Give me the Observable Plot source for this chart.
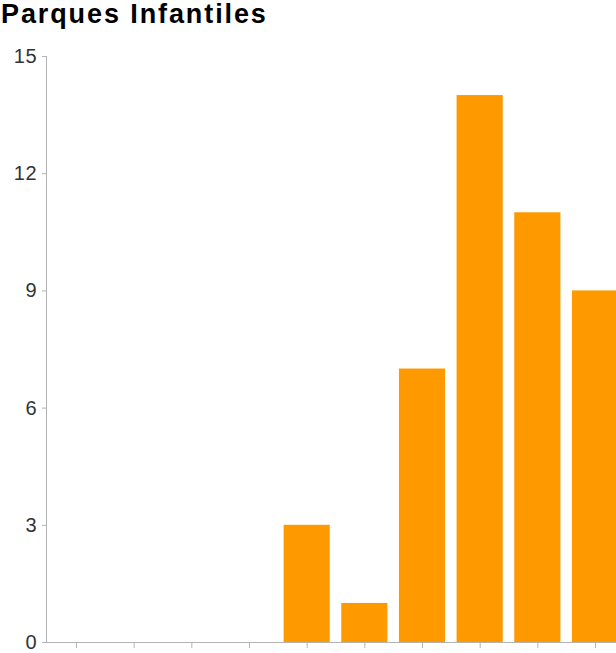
<!DOCTYPE html>
<html>
<head>
<meta charset="utf-8">
<script src="https://cdn.jsdelivr.net/npm/d3@7"></script>
<script src="https://cdn.jsdelivr.net/npm/@observablehq/plot@0.6"></script>
<style>
  html, body { margin: 0; padding: 0; background: #fff; overflow: hidden; width: 616px; }
  #title { font-family: "Liberation Sans", Arial, sans-serif; font-weight: bold; font-size: 27px; letter-spacing: 1.9px; color: #000; height: 28px; line-height: 28px; padding-left: 1px; white-space: nowrap; }
  #chart { width: 616px; overflow: hidden; }
  #chart svg { display: block; max-width: none !important; }
  #chart svg text { letter-spacing: 0.8px; }
</style>
</head>
<body>
<div id="title">Parques Infantiles</div>
<div id="chart"></div>
<script>
const categories = ["1", "2", "3", "4", "5", "6", "7", "8", "9", "10"];
const values = [0, 0, 0, 0, 3, 1, 7, 14, 11, 9];
const yTicks = [0, 3, 6, 9, 12, 15];

const data = categories.map((c, i) => ({category: c, value: values[i]}));

const plot = Plot.plot({
  width: 640,
  height: 644,
  marginTop: 28,
  marginBottom: 30,
  marginLeft: 46,
  marginRight: 15,
  style: {fontFamily: "'Liberation Sans', Arial, sans-serif", fontSize: "20px", color: "#333", background: "#fff", maxWidth: "none"},
  x: {domain: categories, paddingInner: 0.2, paddingOuter: 0.12, round: false, label: null},
  y: {domain: [0, 15], label: null},
  marks: [
    Plot.barY(data, {x: "category", y: "value", fill: "#ff9900"}),
    Plot.frame({anchor: "left", stroke: "#b3b3b3"}),
    Plot.axisY({ticks: yTicks, tickSize: 4, tickPadding: 5, stroke: "#b3b3b3", fill: "#333", fontSize: 20, label: null}),
    Plot.axisX({tickSize: 6, tickPadding: 4, stroke: "#b3b3b3", fill: "#333", fontSize: 20, label: null}),
    Plot.ruleY([0], {stroke: "#b3b3b3", dx: -4})
  ]
});
document.getElementById("chart").appendChild(plot);
</script>
</body>
</html>
